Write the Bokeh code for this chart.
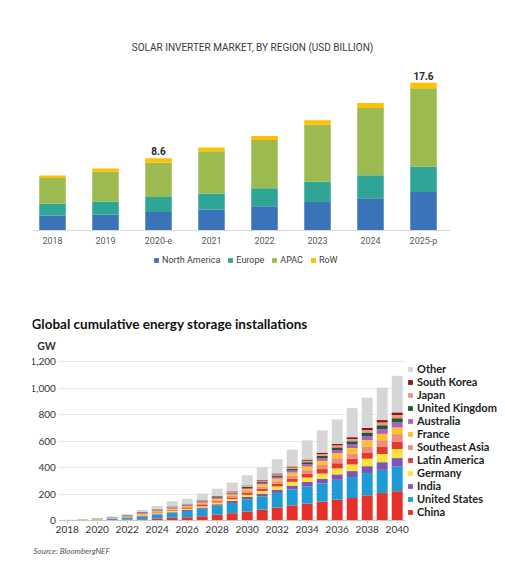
from bokeh.plotting import figure
from bokeh.models import (ColumnDataSource, Legend, LegendItem, Label, Range1d, LinearAxis,
                          Grid, FixedTicker, NumeralTickFormatter)
from bokeh.embed import file_html
from bokeh.resources import INLINE
from bokeh.core.properties import value

# ---------------- Chart 1 data: Solar inverter market (USD billion) ----------------
inv_years = ["2018", "2019", "2020-e", "2021", "2022", "2023", "2024", "2025-p"]
north_america = [1.8, 1.9, 2.2, 2.5, 2.9, 3.4, 3.85, 4.6]
europe = [1.4, 1.55, 1.8, 1.9, 2.15, 2.4, 2.75, 3.0]
apac = [3.05, 3.55, 4.1, 5.05, 5.75, 6.8, 8.0, 9.35]
row = [0.32, 0.4, 0.5, 0.45, 0.47, 0.55, 0.6, 0.65]
inv_regions = ["North America", "Europe", "APAC", "RoW"]
inv_colors = ["#3A73B8", "#2FA596", "#9BBA4F", "#FEC000"]
labelled_years = ["2020-e", "2025-p"]

# ---------------- Chart 2 data: Global cumulative energy storage (GW) ----------------
years = [2018, 2019, 2020, 2021, 2022, 2023, 2024, 2025, 2026, 2027, 2028, 2029,
         2030, 2031, 2032, 2033, 2034, 2035, 2036, 2037, 2038, 2039, 2040]
china = [0.5, 1, 2, 3, 5, 10, 15, 20, 25, 32, 43, 55, 68, 82, 98, 114, 128, 143, 157, 170, 190, 207, 221]
united_states = [1.5, 3, 5, 8, 13, 20, 27, 36, 46, 56, 68, 78, 92, 100, 110, 120, 130, 136, 150, 158, 168, 175, 185]
india = [0.2, 0.3, 0.6, 1, 2, 4, 6, 7, 8, 10, 12, 15, 18, 21, 25, 29, 33, 37, 41, 45, 52, 58, 65]
germany = [0.5, 0.8, 1.5, 2.5, 4, 6, 7, 8, 9, 10, 12, 14, 17, 20, 24, 29, 33, 38, 45, 50, 56, 62, 68]
latin_america = [0.1, 0.2, 0.4, 0.8, 1.5, 3, 5, 6, 7, 9, 10, 12, 15, 18, 21, 25, 29, 34, 39, 42, 48, 53, 57]
southeast_asia = [0.1, 0.2, 0.4, 0.8, 1.5, 3, 4, 5, 6, 7, 8, 10, 12, 15, 18, 22, 27, 31, 38, 40, 46, 51, 56]
france = [0.2, 0.4, 0.8, 1.5, 2.5, 4.5, 6, 7, 8, 10, 12, 13, 15, 17, 20, 23, 27, 31, 38, 42, 46, 48, 50]
australia = [0.3, 0.5, 0.8, 1.5, 2.5, 3.5, 4, 5, 6, 7, 7, 8, 9, 11, 13, 15, 18, 21, 24, 27, 31, 35, 38]
united_kingdom = [0.4, 0.6, 1, 1.8, 2.5, 3.5, 4, 4.5, 5, 5, 6, 7, 8, 10, 11, 13, 15, 17, 20, 24, 27, 30, 32]
japan = [0.3, 0.5, 1, 1.5, 2, 3, 3, 3.5, 4, 4, 4, 5, 6, 7, 8, 10, 11, 13, 15, 17, 19, 21, 24]
south_korea = [0.3, 0.6, 1.5, 2.6, 3, 3.5, 3, 3, 3, 3, 3, 4, 5, 6, 7, 8, 9, 11, 12, 14, 16, 18, 20]
other = [1, 2, 3, 5, 10, 16, 26, 40, 38, 50, 55, 66, 77, 95, 107, 127, 145, 168, 183, 221, 228, 244, 276]
series_names = ["China", "United States", "India", "Germany", "Latin America", "Southeast Asia",
                "France", "Australia", "United Kingdom", "Japan", "South Korea", "Other"]
series_values = [china, united_states, india, germany, latin_america, southeast_asia,
                 france, australia, united_kingdom, japan, south_korea, other]
series_colors = ["#E8302A", "#1E9BD7", "#7E57B2", "#FBE43A", "#E23A2C", "#F08C7C",
                 "#FBC12E", "#B35DC0", "#1E5B30", "#F29487", "#8A1A12", "#D6D6D6"]
y_ticks = [0, 200, 400, 600, 800, 1000, 1200]
x_ticks = [2018, 2020, 2022, 2024, 2026, 2028, 2030, 2032, 2034, 2036, 2038, 2040]

# ---------------- page geometry (pixels) ----------------
FL, FW, FH = 32, 473, 579            # frame left, frame width, frame height
# chart 1: first bar centre, bar pitch, baseline, px per USD bn
C1_X0, C1_DX, C1_BASE, C1_K = 52, 53, 230, 8.39
# chart 2: 2018 bar centre, px per year, baseline, px per GW
C2_X0, C2_DX, C2_BASE, C2_K = 66.7, 15.0, 520, 0.1325
C2_LEFT, C2_RIGHT = 58.3, 405.0     # extent of the chart-2 plot area

def c1x(px):
    return (px - C1_X0) / C1_DX
def c1y(py):
    return (C1_BASE - py) / C1_K
def c2x(px):
    return years[0] + (px - C2_X0) / C2_DX
def c2y(py):
    return (C2_BASE - py) / C2_K

F1 = "Roboto"
F2 = "Lato"

p = figure(width=None, height=None, frame_width=FW, frame_height=FH,
           x_range=Range1d(c1x(FL), c1x(FL + FW)), y_range=Range1d(c1y(FH), c1y(0)),
           x_axis_location=None, y_axis_location=None,
           min_border_left=FL, min_border_right=0, min_border_top=0, min_border_bottom=0,
           output_backend="svg", toolbar_location=None, outline_line_color=None)
for g in p.select(type=Grid):
    g.visible = False
p.extra_x_ranges = {"yr": Range1d(c2x(FL), c2x(FL + FW))}
p.extra_y_ranges = {"gw": Range1d(c2y(FH), c2y(0))}

# ================= Chart 1 =================
inv_pos = list(range(len(inv_years)))
src1 = ColumnDataSource(dict(pos=inv_pos, **{"North America": north_america, "Europe": europe,
                                              "APAC": apac, "RoW": row}))
rs1 = p.vbar_stack(inv_regions, x="pos", width=0.5, color=inv_colors, source=src1, line_color=None)

ax1 = LinearAxis(ticker=FixedTicker(ticks=inv_pos),
                 major_label_overrides={i: lab for i, lab in zip(inv_pos, inv_years)},
                 fixed_location=0, bounds=(c1x(25), c1x(450)))
ax1.axis_line_color = "#d9d9d9"
ax1.major_tick_line_color = None
ax1.major_tick_out = 0
ax1.minor_tick_line_color = None
ax1.major_label_text_font = F1
ax1.major_label_text_font_size = "9px"
ax1.major_label_text_color = "#595959"
ax1.major_label_standoff = 5
p.add_layout(ax1, "below")

totals1 = [a + b + c + d for a, b, c, d in zip(north_america, europe, apac, row)]
lab_idx = [inv_years.index(k) for k in labelled_years]
lab_src = ColumnDataSource(dict(x=[inv_pos[i] for i in lab_idx], y=[totals1[i] for i in lab_idx],
                                t=["%.1f" % totals1[i] for i in lab_idx]))
p.text(x="x", y="y", text="t", source=lab_src, text_align="center", text_baseline="bottom",
       y_offset=-3, text_font=value(F1), text_font_style="bold", text_font_size="10px",
       text_color="#262626")
p.add_layout(Label(x=c1x(252), y=c1y(47), text="SOLAR INVERTER MARKET, BY REGION (USD BILLION)",
                   text_align="center", text_baseline="middle", text_font=F1,
                   text_font_size="10px", text_color="#3a3a3a"))

leg1 = Legend(items=[LegendItem(label=value(n), renderers=[r]) for n, r in zip(inv_regions, rs1)],
              orientation="horizontal", location=(153 - FL, FH - 265), glyph_width=6,
              glyph_height=6, label_standoff=3, spacing=7, padding=2, margin=0,
              border_line_color=None, background_fill_alpha=0, label_text_font=F1,
              label_text_font_size="9px", label_text_color="#404040", label_height=10,
              label_width=10)
p.add_layout(leg1, "center")

# ================= Chart 2 =================
d2 = dict(year=years)
for n, v in zip(series_names, series_values):
    d2[n] = v
src2 = ColumnDataSource(d2)
rs2 = p.vbar_stack(series_names, x="year", width=0.73, color=series_colors, source=src2,
                   line_color=None, x_range_name="yr", y_range_name="gw")

x_lo, x_hi = c2x(C2_LEFT), c2x(C2_RIGHT)
try:
    grid2 = Grid(dimension=1, ticker=FixedTicker(ticks=y_ticks), x_range_name="yr",
                 y_range_name="gw", grid_line_color="#e8e8e8", cross_bounds=(x_lo, x_hi))
    p.add_layout(grid2, "center")
except Exception:
    p.segment(x0=[x_lo] * len(y_ticks), x1=[x_hi] * len(y_ticks), y0=y_ticks, y1=y_ticks,
              line_color="#e8e8e8", x_range_name="yr", y_range_name="gw", level="underlay")

ax2x = LinearAxis(ticker=FixedTicker(ticks=x_ticks), x_range_name="yr", y_range_name="gw",
                  fixed_location=0, bounds=(x_lo, x_hi))
ax2x.axis_line_color = "#c8c8c8"
ax2x.major_tick_line_color = "#c8c8c8"
ax2x.major_tick_out = 3
ax2x.major_tick_in = 0
ax2x.minor_tick_line_color = None
ax2x.major_label_standoff = 2
ax2y = LinearAxis(ticker=FixedTicker(ticks=y_ticks), formatter=NumeralTickFormatter(format="0,0"),
                  x_range_name="yr", y_range_name="gw", fixed_location=x_lo)
ax2y.axis_line_color = None
ax2y.major_tick_line_color = None
ax2y.major_tick_out = 0
ax2y.minor_tick_line_color = None
ax2y.major_label_standoff = 3
for ax in (ax2x, ax2y):
    ax.major_label_text_font = F2
    ax.major_label_text_font_size = "10px"
    ax.major_label_text_color = "#333333"
p.add_layout(ax2x, "below")
p.add_layout(ax2y, "left")

leg2 = Legend(items=[LegendItem(label=value(n), renderers=[r])
                     for n, r in reversed(list(zip(series_names, rs2)))],
              location=(407 - FL, FH - 518), glyph_width=6, glyph_height=6, label_standoff=4,
              spacing=0, padding=0, margin=0, border_line_color=None, background_fill_alpha=0,
              label_text_font=F2, label_text_font_style="bold", label_text_font_size="11px",
              label_text_color="#222222", label_height=13, label_width=10)
p.add_layout(leg2, "center")

p.add_layout(Label(x=c2x(31), y=c2y(323), text="Global cumulative energy storage installations",
                   x_range_name="yr", y_range_name="gw", text_align="left",
                   text_baseline="middle", text_font=F2, text_font_style="bold",
                   text_font_size="13.5px", text_color="#111111"))
p.add_layout(Label(x=c2x(46), y=c2y(345), text="GW", x_range_name="yr", y_range_name="gw",
                   text_align="center", text_baseline="middle", text_font=F2,
                   text_font_style="bold", text_font_size="10.5px", text_color="#333333"))
p.add_layout(Label(x=c2x(33), y=c2y(550), text="Source: BloombergNEF", x_range_name="yr",
                   y_range_name="gw", text_align="left", text_baseline="middle", text_font=F2,
                   text_font_style="italic", text_font_size="8px", text_color="#555555"))

open("out.html", "w").write(file_html(p, INLINE))
